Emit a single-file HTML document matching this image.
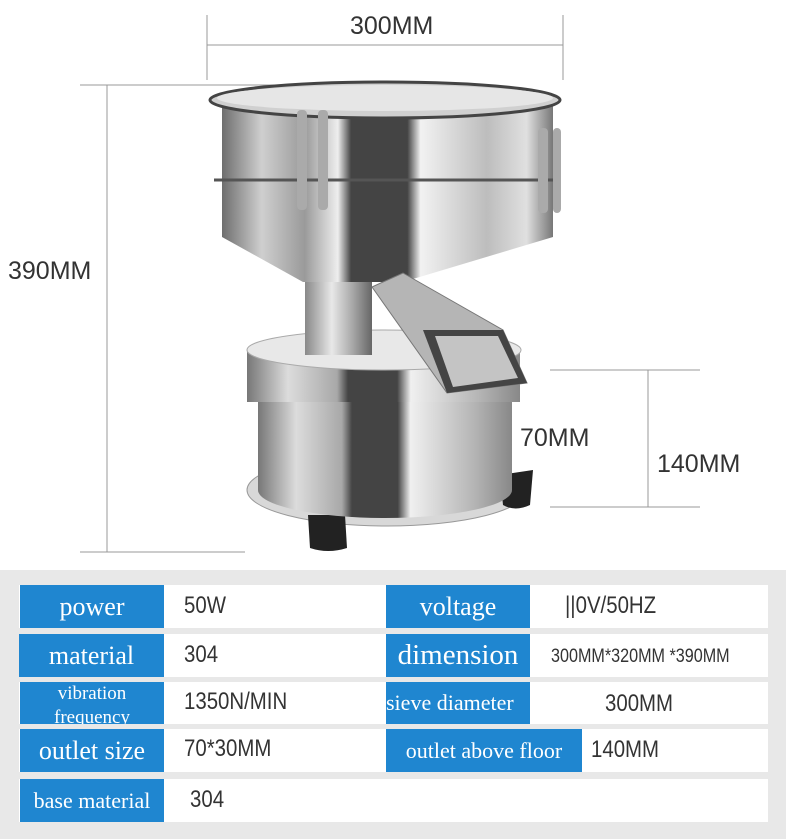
<!DOCTYPE html>
<html><head><meta charset="utf-8"><style>
body{margin:0;width:790px;height:839px;background:#fff;position:relative;overflow:hidden;font-family:"Liberation Sans",sans-serif}
.t{position:absolute;font-size:25px;color:#333;}
.panel{position:absolute;left:0;top:570px;width:786px;height:269px;background:#e8e8e8}
.row{position:absolute;background:#fff}
.lab{position:absolute;background:#1f86d0;color:#fff;font-family:"Liberation Serif",serif;font-size:26px;text-align:center;white-space:nowrap;overflow:hidden}
.val{position:absolute;color:#333;font-family:"Liberation Sans",sans-serif;font-size:24px;white-space:nowrap;transform:scaleX(.85);transform-origin:0 0}
</style></head><body>
<svg width="790" height="570" style="position:absolute;left:0;top:0">
<defs>
<linearGradient id="m" x1="0" x2="1">
<stop offset="0" stop-color="#6e6e6e"/><stop offset=".12" stop-color="#cfcfcf"/><stop offset=".25" stop-color="#9a9a9a"/><stop offset=".35" stop-color="#eeeeee"/><stop offset=".39" stop-color="#444"/><stop offset=".56" stop-color="#444"/><stop offset=".6" stop-color="#f2f2f2"/><stop offset=".8" stop-color="#bdbdbd"/><stop offset=".92" stop-color="#e0e0e0"/><stop offset="1" stop-color="#777"/>
</linearGradient>
<linearGradient id="n" x1="0" x2="1">
<stop offset="0" stop-color="#888"/><stop offset=".4" stop-color="#e8e8e8"/><stop offset=".7" stop-color="#aaa"/><stop offset="1" stop-color="#666"/>
</linearGradient>
<linearGradient id="b" x1="0" x2="1">
<stop offset="0" stop-color="#777"/><stop offset=".15" stop-color="#dcdcdc"/><stop offset=".33" stop-color="#a8a8a8"/><stop offset=".37" stop-color="#444"/><stop offset=".55" stop-color="#444"/><stop offset=".6" stop-color="#f0f0f0"/><stop offset=".85" stop-color="#b5b5b5"/><stop offset="1" stop-color="#888"/>
</linearGradient>
</defs>
<g stroke="#999" stroke-width="1" fill="none">
<line x1="207" y1="45" x2="563" y2="45"/><line x1="207" y1="15" x2="207" y2="80"/><line x1="563" y1="15" x2="563" y2="80"/>
<line x1="107" y1="85" x2="107" y2="552"/><line x1="80" y1="85" x2="300" y2="85"/><line x1="80" y1="552" x2="245" y2="552"/>
<line x1="648" y1="370" x2="648" y2="507"/><line x1="550" y1="370" x2="700" y2="370"/><line x1="550" y1="507" x2="700" y2="507"/>
</g>
<ellipse cx="387" cy="490" rx="140" ry="36" fill="#d8d8d8" stroke="#999"/>
<path d="M330 515 L345 515 L347 548 Q328 554 310 548 L308 515Z" fill="#222"/>
<path d="M500 475 L533 470 L530 505 Q515 512 503 505Z" fill="#222"/>
<rect x="258" y="400" width="254" height="90" fill="url(#b)"/>
<ellipse cx="385" cy="490" rx="127" ry="28" fill="url(#b)"/>
<rect x="247" y="350" width="273" height="52" fill="url(#b)"/>
<ellipse cx="384" cy="350" rx="137" ry="20" fill="#e8e8e8" stroke="#aaa"/>
<rect x="305" y="275" width="67" height="80" fill="url(#n)"/>
<path d="M222 237 L553 237 L403 282 L303 282Z" fill="url(#m)"/>
<rect x="222" y="100" width="331" height="137" fill="url(#m)"/>
<line x1="214" y1="180" x2="560" y2="180" stroke="#555" stroke-width="3"/>
<ellipse cx="385" cy="100" rx="175" ry="18" fill="#d0d0d0" stroke="#444" stroke-width="3"/>
<ellipse cx="385" cy="98" rx="168" ry="13" fill="#e6e6e6"/>
<rect x="297" y="110" width="10" height="100" rx="4" fill="#aaa"/><rect x="318" y="110" width="10" height="100" rx="4" fill="#aaa"/>
<rect x="538" y="128" width="10" height="85" rx="4" fill="#aaa"/><rect x="553" y="128" width="8" height="85" rx="4" fill="#aaa"/>
<path d="M372 287 L403 273 L503 330 L527 383 L447 393Z" fill="#b5b5b5" stroke="#777"/>
<path d="M423 330 L503 330 L527 383 L447 393Z" fill="#444"/>
<path d="M435 336 L498 336 L518 378 L453 387Z" fill="#c4c4c4"/>
</svg>
<div class="t" style="left:350px;top:12px">300MM</div>
<div class="t" style="left:8px;top:257px">390MM</div>
<div class="t" style="left:520px;top:424px">70MM</div>
<div class="t" style="left:657px;top:450px">140MM</div>
<div class="panel"></div>
<div class="row" style="left:19px;top:585px;width:749px;height:43px"></div>
<div class="row" style="left:19px;top:634px;width:749px;height:43px"></div>
<div class="row" style="left:19px;top:682px;width:749px;height:42px"></div>
<div class="row" style="left:19px;top:729px;width:749px;height:43px"></div>
<div class="row" style="left:19px;top:779px;width:749px;height:43px"></div>
<div class="lab" style="left:20px;top:585px;width:144px;height:43px;line-height:43px">power</div>
<div class="lab" style="left:19px;top:634px;width:145px;height:43px;line-height:43px">material</div>
<div class="lab" style="left:20px;top:682px;width:144px;height:42px;font-size:19px;line-height:24px">vibration<br>frequency</div>
<div class="lab" style="left:20px;top:729px;width:144px;height:43px;line-height:43px">outlet size</div>
<div class="lab" style="left:20px;top:779px;width:144px;height:43px;line-height:43px;font-size:22px">base material</div>
<div class="lab" style="left:386px;top:585px;width:144px;height:43px;line-height:43px">voltage</div>
<div class="lab" style="left:386px;top:634px;width:144px;height:43px;line-height:43px;font-size:29px">dimension</div>
<div class="lab" style="left:386px;top:682px;width:144px;height:42px;line-height:42px;font-size:22px;text-align:left">sieve diameter</div>
<div class="lab" style="left:386px;top:729px;width:196px;height:43px;line-height:43px;font-size:22px">outlet above floor</div>
<div class="val" style="left:184px;top:592px">50W</div>
<div class="val" style="left:184px;top:641px">304</div>
<div class="val" style="left:184px;top:688px">1350N/MIN</div>
<div class="val" style="left:184px;top:735px">70*30MM</div>
<div class="val" style="left:190px;top:786px">304</div>
<div class="val" style="left:565px;top:592px">||0V/50HZ</div>
<div class="val" style="left:551px;top:646px;font-size:19px">300MM*320MM *390MM</div>
<div class="val" style="left:605px;top:690px">300MM</div>
<div class="val" style="left:591px;top:736px">140MM</div>
</body></html>
